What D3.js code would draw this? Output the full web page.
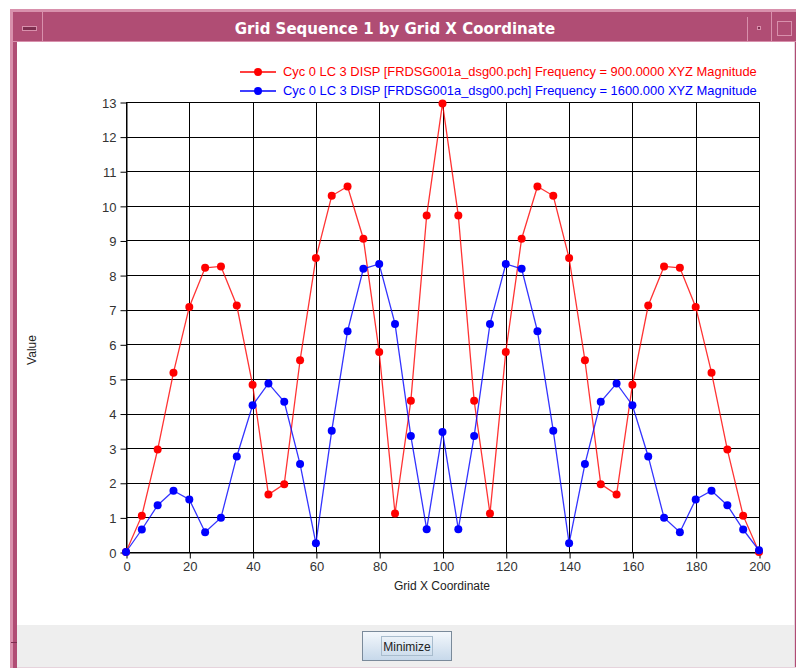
<!DOCTYPE html>
<html>
<head>
<meta charset="utf-8">
<script src="https://cdn.jsdelivr.net/npm/d3@7"></script>
<style>
  body { margin: 0; background: #fff; }
  svg { display: block; font-family: "Liberation Sans", Arial, sans-serif; }
</style>
</head>
<body>
<div id="chart"></div>
<script>
// Data
const gridX = [0, 5, 10, 15, 20, 25, 30, 35, 40, 45, 50, 55, 60, 65, 70, 75, 80, 85, 90, 95,
  100, 105, 110, 115, 120, 125, 130, 135, 140, 145, 150, 155, 160, 165, 170, 175, 180, 185, 190, 195, 200];
const red900 = [0, 1.05, 2.96, 5.18, 7.08, 8.21, 8.25, 7.12, 4.83, 1.66, 1.96, 5.54, 8.49, 10.29, 10.56, 9.05, 5.78, 1.11, 4.37, 9.72,
  12.96, 9.72, 4.37, 1.11, 5.78, 9.05, 10.56, 10.29, 8.49, 5.54, 1.96, 1.66, 4.83, 7.12, 8.25, 8.21, 7.08, 5.18, 2.96, 1.05, 0];
const blue1600 = [0, 0.65, 1.35, 1.77, 1.52, 0.57, 0.99, 2.76, 4.24, 4.87, 4.34, 2.54, 0.25, 3.50, 6.38, 8.18, 8.32, 6.59, 3.35, 0.66,
  3.47, 0.66, 3.35, 6.59, 8.32, 8.18, 6.38, 3.50, 0.25, 2.54, 4.34, 4.87, 4.24, 2.76, 0.99, 0.57, 1.52, 1.77, 1.35, 0.65, 0.05];
const xTicks = [0, 20, 40, 60, 80, 100, 120, 140, 160, 180, 200];
const yTicks = [0, 1, 2, 3, 4, 5, 6, 7, 8, 9, 10, 11, 12, 13];
const seriesNames = [
  "Cyc 0 LC 3 DISP [FRDSG001a_dsg00.pch] Frequency = 900.0000 XYZ Magnitude",
  "Cyc 0 LC 3 DISP [FRDSG001a_dsg00.pch] Frequency = 1600.000 XYZ Magnitude"
];
const seriesColors = ["#ff0000", "#0000ff"];
const titleText = "Grid Sequence 1 by Grid X Coordinate";

const W = 796, H = 668;
const svg = d3.select("#chart").append("svg").attr("width", W).attr("height", H);

// Window frame
const frame = "#b04d74", frameLight = "#d890ac", frameDark = "#7e2e4f";
svg.append("rect").attr("x", 0).attr("y", 0).attr("width", W).attr("height", H).attr("fill", "#fff");
svg.append("rect").attr("x", 10).attr("y", 9).attr("width", 786).attr("height", 659).attr("fill", frame);
svg.append("rect").attr("x", 10).attr("y", 9).attr("width", 3).attr("height", 659).attr("fill", frameLight);
svg.append("rect").attr("x", 10).attr("y", 9).attr("width", 786).attr("height", 3).attr("fill", frameLight);
// content area
svg.append("rect").attr("x", 17).attr("y", 41).attr("width", 777).attr("height", 627).attr("fill", "#fff");
svg.append("rect").attr("x", 17).attr("y", 625).attr("width", 777).attr("height", 43).attr("fill", "#eeeeee");
svg.append("line").attr("x1", 794.5).attr("x2", 794.5).attr("y1", 41).attr("y2", 668).attr("stroke", "#e6d3dc");
svg.append("line").attr("x1", 17).attr("x2", 796).attr("y1", 667.5).attr("y2", 667.5).attr("stroke", "#e6d3dc");
svg.append("line").attr("x1", 11).attr("x2", 17).attr("y1", 642.5).attr("y2", 642.5).attr("stroke", frameDark);
// title bar separators and buttons
svg.append("line").attr("x1", 42.5).attr("x2", 42.5).attr("y1", 11).attr("y2", 41).attr("stroke", frameLight);
svg.append("line").attr("x1", 13).attr("x2", 796).attr("y1", 41.5).attr("y2", 41.5).attr("stroke", frameLight);
svg.append("rect").attr("x", 22.5).attr("y", 26.5).attr("width", 14).attr("height", 4)
  .attr("fill", frameDark).attr("stroke", frameLight);
svg.append("line").attr("x1", 747.5).attr("x2", 747.5).attr("y1", 17).attr("y2", 41).attr("stroke", frameLight);
svg.append("line").attr("x1", 771.5).attr("x2", 771.5).attr("y1", 9).attr("y2", 41).attr("stroke", frameLight);
svg.append("rect").attr("x", 757.5).attr("y", 26.5).attr("width", 3).attr("height", 3)
  .attr("fill", frameDark).attr("stroke", frameLight);
svg.append("rect").attr("x", 777.5).attr("y", 21.5).attr("width", 14).attr("height", 14)
  .attr("fill", frame).attr("stroke", frameLight);
svg.append("text").attr("x", 395).attr("y", 34).attr("text-anchor", "middle")
  .attr("fill", "#fff").attr("font-size", 15).attr("font-weight", "bold")
  .style("font-family", "'DejaVu Sans', sans-serif").text(titleText);

// Scales
const x = d3.scaleLinear().domain([0, 200]).range([126, 759]);
const y = d3.scaleLinear().domain([0, 13]).range([552, 102]);

// Grid
const g = svg.append("g");
g.selectAll(".vgrid").data(xTicks).join("line")
  .attr("x1", d => Math.round(x(d)) + 0.5).attr("x2", d => Math.round(x(d)) + 0.5)
  .attr("y1", y(13)).attr("y2", y(0)).attr("stroke", "#000");
g.selectAll(".hgrid").data(yTicks).join("line")
  .attr("x1", x(0)).attr("x2", x(200))
  .attr("y1", d => Math.round(y(d)) + 0.5).attr("y2", d => Math.round(y(d)) + 0.5).attr("stroke", "#000");

// Axes
const xAxis = svg.append("g").attr("transform", "translate(0.5," + (Math.round(y(0)) + 0.5) + ")")
  .call(d3.axisBottom(x).tickValues(xTicks).tickSize(6).tickPadding(3).tickSizeOuter(0));
const yAxis = svg.append("g").attr("transform", "translate(" + (Math.round(x(0)) + 0.5) + ",0.5)")
  .call(d3.axisLeft(y).tickValues(yTicks).tickSize(6).tickPadding(4).tickSizeOuter(0));
[xAxis, yAxis].forEach(a => {
  a.select(".domain").attr("stroke", "#000");
  a.selectAll(".tick line").attr("stroke", "#000");
  a.selectAll("text").attr("fill", "#333").attr("font-size", 13)
    .style("font-family", "'Liberation Sans', Arial, sans-serif");
});
yAxis.selectAll("text").attr("dy", "0.36em");

svg.append("text").attr("x", 442).attr("y", 590).attr("text-anchor", "middle")
  .attr("font-size", 12).attr("fill", "#222").text("Grid X Coordinate");
svg.append("text").attr("transform", "translate(36,350) rotate(-90)").attr("text-anchor", "middle")
  .attr("font-size", 12).attr("fill", "#222").text("Value");

// Series
const series = [red900, blue1600];
const line = d3.line().x((d, i) => x(gridX[i])).y(d => y(d));
series.forEach((vals, k) => {
  svg.append("path").datum(vals).attr("d", line).attr("fill", "none")
    .attr("stroke", seriesColors[k]).attr("stroke-width", 1.3).attr("stroke-opacity", 0.8);
  svg.append("g").selectAll("circle").data(vals).join("circle")
    .attr("cx", (d, i) => x(gridX[i])).attr("cy", d => y(d)).attr("r", 4)
    .attr("fill", seriesColors[k]);
});

// Legend
const legend = svg.append("g");
seriesNames.forEach((name, k) => {
  const ly = 72 + k * 19;
  legend.append("line").attr("x1", 240).attr("x2", 276).attr("y1", ly).attr("y2", ly)
    .attr("stroke", seriesColors[k]).attr("stroke-width", 1.3);
  legend.append("circle").attr("cx", 258).attr("cy", ly).attr("r", 4).attr("fill", seriesColors[k]);
  legend.append("text").attr("x", 283).attr("y", ly + 4).attr("font-size", 12.9)
    .attr("fill", seriesColors[k]).text(name);
});

// Minimize button
const btn = svg.append("g");
const grad = svg.append("defs").append("linearGradient").attr("id", "btnGrad")
  .attr("x1", 0).attr("x2", 0).attr("y1", 0).attr("y2", 1);
grad.append("stop").attr("offset", "0%").attr("stop-color", "#f4f8fc");
grad.append("stop").attr("offset", "100%").attr("stop-color", "#c6d8ea");
btn.append("rect").attr("x", 362.5).attr("y", 631.5).attr("width", 89).attr("height", 29)
  .attr("fill", "url(#btnGrad)").attr("stroke", "#7a8a9a");
btn.append("rect").attr("x", 381.5).attr("y", 636.5).attr("width", 51).attr("height", 19)
  .attr("fill", "none").attr("stroke", "#a8bccd");
btn.append("text").attr("x", 407).attr("y", 651).attr("text-anchor", "middle")
  .attr("font-size", 12).attr("fill", "#222").text("Minimize");
</script>
</body>
</html>
